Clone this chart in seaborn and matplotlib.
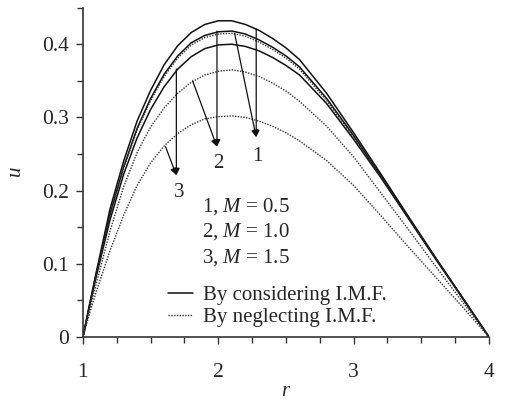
import numpy as np
import pandas as pd
import matplotlib
matplotlib.use("Agg")
import matplotlib.pyplot as plt
import seaborn as sns
from matplotlib.lines import Line2D

# ============================================================
# Data
# ============================================================

r_vals = [1.0, 1.05, 1.1, 1.2, 1.3, 1.4, 1.5, 1.6, 1.7, 1.8, 1.9, 2.0, 2.1,
          2.2, 2.3, 2.4, 2.5, 2.6, 2.8, 3.0, 3.2, 3.4, 3.6, 3.8, 4.0]

# considering I.M.F. (solid)
u_cons_m05 = [0, 0.046, 0.090, 0.175, 0.240, 0.295, 0.337, 0.372, 0.398, 0.416,
              0.427, 0.432, 0.432, 0.427, 0.419, 0.408, 0.395, 0.379, 0.333,
              0.279, 0.223, 0.166, 0.110, 0.055, 0]
u_cons_m10 = [0, 0.045, 0.088, 0.168, 0.232, 0.285, 0.326, 0.359, 0.384, 0.402,
              0.412, 0.417, 0.418, 0.414, 0.406, 0.396, 0.384, 0.369, 0.326,
              0.275, 0.220, 0.165, 0.109, 0.055, 0]
u_cons_m15 = [0, 0.043, 0.084, 0.160, 0.222, 0.272, 0.311, 0.342, 0.366, 0.383,
              0.394, 0.399, 0.400, 0.397, 0.391, 0.382, 0.371, 0.358, 0.319,
              0.270, 0.218, 0.163, 0.108, 0.054, 0]

# neglecting I.M.F. (dotted)
u_negl_m05 = [0, 0.044, 0.087, 0.166, 0.230, 0.283, 0.323, 0.356, 0.381, 0.399,
              0.409, 0.414, 0.415, 0.411, 0.403, 0.393, 0.381, 0.366, 0.323,
              0.273, 0.219, 0.164, 0.109, 0.054, 0]
u_negl_m10 = [0, 0.038, 0.074, 0.145, 0.205, 0.252, 0.287, 0.313, 0.333, 0.348,
              0.358, 0.363, 0.365, 0.362, 0.356, 0.347, 0.336, 0.322, 0.288,
              0.246, 0.197, 0.148, 0.098, 0.049, 0]
u_negl_m15 = [0, 0.033, 0.063, 0.118, 0.166, 0.207, 0.238, 0.261, 0.278, 0.290,
              0.298, 0.301, 0.302, 0.300, 0.295, 0.288, 0.279, 0.268, 0.241,
              0.207, 0.166, 0.124, 0.083, 0.042, 0]

m_labels = ["1", "2", "3"]
m_values = ["0.5", "1.0", "1.5"]
legend_labels = ["By considering I.M.F.", "By neglecting I.M.F."]

# ============================================================
# Style
# ============================================================

FS = 15

sns.set_theme(style="ticks")
plt.rcParams["font.family"] = ["Liberation Serif", "DejaVu Serif"]
plt.rcParams["mathtext.fontset"] = "custom"
plt.rcParams["mathtext.rm"] = "Liberation Serif"
plt.rcParams["mathtext.it"] = "Liberation Serif:italic"
plt.rcParams["font.size"] = FS

fig = plt.figure(figsize=(5.09, 4.01), dpi=100)
ax = fig.add_axes([0.163, 0.1596, 0.7977, 0.8214])

solid_kw = dict(color="#111111", linewidth=1.1)
dot_kw = dict(color="#333333", linewidth=1.0, linestyle=(0, (1, 1)))

for u in [u_cons_m05, u_cons_m10, u_cons_m15]:
    sns.lineplot(x=r_vals, y=u, ax=ax, estimator=None, sort=False, **solid_kw)
for u in [u_negl_m05, u_negl_m10, u_negl_m15]:
    sns.lineplot(x=r_vals, y=u, ax=ax, estimator=None, sort=False, **dot_kw)

# ============================================================
# Arrows and labels
# ============================================================

arrow_kw = dict(arrowstyle="-|>", color="#111111", lw=0.9,
                mutation_scale=10, shrinkA=0, shrinkB=0)
arrows = [
    ((2.28, 0.421), (2.28, 0.273)),
    ((2.12, 0.415), (2.28, 0.273)),
    ((1.99, 0.418), (1.99, 0.260)),
    ((1.81, 0.350), (1.99, 0.260)),
    ((1.69, 0.366), (1.69, 0.221)),
    ((1.61, 0.260), (1.69, 0.221)),
]
for start, end in arrows:
    ax.annotate("", xy=end, xytext=start, arrowprops=arrow_kw)

label_pos = [(2.29, 0.247), (2.00, 0.237), (1.71, 0.198)]
for lab, (x, y) in zip(m_labels, label_pos):
    ax.text(x, y, lab, ha="center", va="center", fontsize=FS)

for i, (lab, mv) in enumerate(zip(m_labels, m_values)):
    ax.text(1.88, 0.178 - i * 0.0345, lab + r", $M$ = " + mv,
            ha="left", va="center", fontsize=FS)

handles = [Line2D([], [], **solid_kw), Line2D([], [], **dot_kw)]
ax.legend(handles, legend_labels, frameon=False, loc="lower left",
          bbox_to_anchor=(0.209, 0.03), handlelength=1.2, handletextpad=0.5,
          borderaxespad=0, borderpad=0, labelspacing=0.1, fontsize=FS)

# ============================================================
# Axes
# ============================================================

ax.set_xlim(1, 4)
ax.set_ylim(0, 0.45)
ax.set_xticks([1, 2, 3, 4])
ax.set_xticks(np.arange(1, 4.01, 0.25), minor=True)
ax.set_yticks([0, 0.1, 0.2, 0.3, 0.4])
ax.set_yticklabels(["0", "0.1", "0.2", "0.3", "0.4"])
ax.set_yticks(np.arange(0, 0.451, 0.05), minor=True)
ax.tick_params(axis="both", which="major", length=5, width=1, color="#333333",
               labelsize=15.5)
ax.tick_params(axis="both", which="minor", length=4, width=1, color="#333333")
ax.tick_params(axis="x", which="major", pad=14)
ax.tick_params(axis="y", which="major", pad=5)

ax.set_xlabel("$r$", fontsize=FS, labelpad=0)
ax.set_ylabel("$u$", fontsize=FS, labelpad=12)

sns.despine(ax=ax)
for s in ["left", "bottom"]:
    ax.spines[s].set_linewidth(1.2)
    ax.spines[s].set_color("#333333")

fig.savefig("out.png", dpi=100)
